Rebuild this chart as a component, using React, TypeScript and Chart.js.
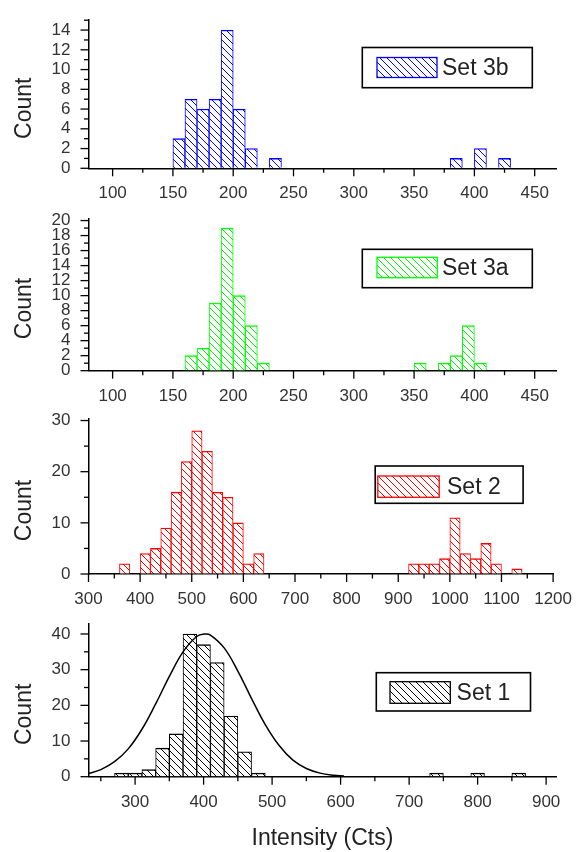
import React, { useEffect, useRef } from 'react';
import { Chart, registerables } from 'chart.js';

Chart.register(...registerables);

const W = 579;
const H = 852;
const FONT = "Arial, 'Liberation Sans', Helvetica, sans-serif";
const PLOT_LEFT = 88.5;
const PLOT_RIGHT = 556.4;

// ---------- data ----------
// Set 3b (bin width 10)
const set3bBinStart = [150, 160, 170, 180, 190, 200, 210, 230, 380, 400, 420];
const set3bCount = [3, 7, 6, 7, 14, 6, 2, 1, 1, 2, 1];
// Set 3a (bin width 10)
const set3aBinStart = [160, 170, 180, 190, 200, 210, 220, 350, 370, 380, 390, 400];
const set3aCount = [2, 3, 9, 19, 10, 6, 1, 1, 1, 2, 6, 1];
// Set 2 (bin width 20)
const set2BinStart = [360, 400, 420, 440, 460, 480, 500, 520, 540, 560, 580, 600, 620, 920, 940, 960, 980, 1000, 1020, 1040, 1060, 1080, 1120];
const set2Count = [2, 4, 5, 9, 16, 22, 28, 24, 16, 15, 10, 2, 4, 2, 2, 2, 3, 11, 4, 3, 6, 2, 1];
// Set 1 (bin width 20)
const set1BinStart = [270, 290, 310, 330, 350, 370, 390, 410, 430, 450, 470, 730, 790, 850];
const set1Count = [1, 1, 2, 8, 12, 40, 37, 32, 17, 7, 1, 1, 1, 1];
// Set 1 fitted curve
const set1FitX = [232, 250, 270, 290, 310, 330, 350, 370, 390, 402, 410, 430, 450, 470, 490, 510, 530, 550, 570, 590, 605];
const set1FitY = [0.9, 2.0, 4.2, 7.8, 13.3, 20.4, 28.1, 35.0, 39.3, 40, 39.7, 36.1, 29.6, 21.9, 14.6, 8.8, 4.7, 2.3, 1.0, 0.4, 0.2];

const panels = [
  {
    label: 'Set 3b', color: '#0000ff', binStart: set3bBinStart, counts: set3bCount, binWidth: 10,
    x: { min: 80, max: 468, minor: 25, major: 50 },
    y: { max: 15, minor: 1, major: 2 },
    area: { top: 15, bottom: 168.3 },
    legend: { box: [362.3, 47.5, 532.3, 87.7], swatch: [377, 57.5, 437, 77.5], textX: 442 },
  },
  {
    label: 'Set 3a', color: '#00ff00', binStart: set3aBinStart, counts: set3aCount, binWidth: 10,
    x: { min: 80, max: 468, minor: 25, major: 50 },
    y: { max: 20.3, minor: 1, major: 2 },
    area: { top: 218.3, bottom: 370.7 },
    legend: { box: [362.3, 249.3, 532.3, 287.7], swatch: [377, 257.3, 437.3, 277.7], textX: 442 },
  },
  {
    label: 'Set 2', color: '#ff0000', binStart: set2BinStart, counts: set2Count, binWidth: 20,
    x: { min: 300, max: 1200, minor: 50, major: 100 },
    y: { max: 30.3, minor: 5, major: 10 },
    area: { top: 419, bottom: 574 },
    legend: { box: [375.2, 466, 523.1, 503.3], swatch: [377.8, 476, 439.2, 497.3], textX: 447 },
  },
  {
    label: 'Set 1', color: '#000000', binStart: set1BinStart, counts: set1Count, binWidth: 20,
    x: { min: 232, max: 915, minor: 50, major: 100 },
    y: { max: 42.8, minor: 5, major: 10 },
    area: { top: 624, bottom: 776.7 },
    legend: { box: [376.3, 672.7, 530.5, 711], swatch: [390, 681.7, 450.3, 703.3], textX: 456.6 },
    fitX: set1FitX, fitY: set1FitY,
    xTitle: 'Intensity (Cts)', xTitleY: 839,
  },
];

function makeHatch(color: string) {
  const s = 7;
  const c = document.createElement('canvas');
  c.width = s;
  c.height = s;
  const g = c.getContext('2d')!;
  g.fillStyle = '#ffffff';
  g.fillRect(0, 0, s, s);
  g.strokeStyle = color;
  g.lineWidth = 1;
  for (const k of [-1, 0, 1]) {
    g.beginPath();
    g.moveTo(k * s, 0);
    g.lineTo(k * s + s, s);
    g.stroke();
  }
  return g.createPattern(c, 'repeat')!;
}

const isMajor = (v: number, step: number) => Math.abs(v / step - Math.round(v / step)) < 1e-6;

const decorPlugin = {
  id: 'decor',
  afterDraw(chart: any, _args: any, opts: any) {
    const ctx = chart.ctx as CanvasRenderingContext2D;
    const { left, top, bottom } = chart.chartArea;
    const xs = chart.scales.x;
    const ys = chart.scales.y;
    ctx.save();
    ctx.strokeStyle = '#000';
    ctx.lineWidth = 1.3;
    xs.ticks.forEach((t: any) => {
      const px = xs.getPixelForValue(t.value);
      const len = isMajor(t.value, opts.xMajor) ? 8 : 4.5;
      ctx.beginPath();
      ctx.moveTo(px, bottom);
      ctx.lineTo(px, bottom + len);
      ctx.stroke();
    });
    ys.ticks.forEach((t: any) => {
      const py = ys.getPixelForValue(t.value);
      const len = isMajor(t.value, opts.yMajor) ? 8 : 4.5;
      ctx.beginPath();
      ctx.moveTo(left, py);
      ctx.lineTo(left - len, py);
      ctx.stroke();
    });

    // y title
    ctx.fillStyle = '#222';
    ctx.font = `23px ${FONT}`;
    ctx.textAlign = 'center';
    ctx.textBaseline = 'middle';
    ctx.save();
    ctx.translate(25, (top + bottom) / 2 + 14);
    ctx.rotate(-Math.PI / 2);
    ctx.fillText('Count', 0, 0);
    ctx.restore();

    if (opts.xTitle) {
      ctx.fillText(opts.xTitle, (chart.chartArea.left + chart.chartArea.right) / 2, opts.xTitleY);
    }

    // legend
    const ds = chart.data.datasets.find((d: any) => d.type !== 'line');
    const [bx0, by0, bx1, by1] = opts.legend.box;
    const [sx0, sy0, sx1, sy1] = opts.legend.swatch;
    ctx.fillStyle = '#fff';
    ctx.fillRect(bx0, by0, bx1 - bx0, by1 - by0);
    ctx.strokeStyle = '#000';
    ctx.lineWidth = 1.6;
    ctx.strokeRect(bx0, by0, bx1 - bx0, by1 - by0);
    ctx.fillStyle = ds.backgroundColor;
    ctx.fillRect(sx0, sy0, sx1 - sx0, sy1 - sy0);
    ctx.strokeStyle = ds.borderColor;
    ctx.lineWidth = 1.3;
    ctx.strokeRect(sx0, sy0, sx1 - sx0, sy1 - sy0);
    ctx.fillStyle = '#222';
    ctx.textAlign = 'left';
    ctx.fillText(ds.label, opts.legend.textX, (sy0 + sy1) / 2 + 1);
    ctx.restore();
  },
};

function buildConfig(p: any) {
  const hatch = makeHatch(p.color);
  const datasets: any[] = [];
  if (p.fitX) {
    datasets.push({
      type: 'line',
      label: 'fit',
      data: p.fitX.map((x: number, i: number) => ({ x, y: p.fitY[i] })),
      borderColor: '#000',
      borderWidth: 1.5,
      pointRadius: 0,
      tension: 0.4,
      fill: false,
      order: 0,
    });
  }
  datasets.push({
    type: 'bar',
    label: p.label,
    data: p.binStart.map((s: number, i: number) => ({ x: s + p.binWidth / 2, y: p.counts[i] })),
    backgroundColor: hatch,
    borderColor: p.color,
    borderWidth: { top: 1.4, left: 1, right: 1, bottom: 0 },
    borderSkipped: 'start',
    barPercentage: 1,
    categoryPercentage: 1,
    order: 1,
  });

  const tickFont = { family: FONT, size: 17 };
  const gridOpts = {
    display: true,
    drawOnChartArea: false,
    drawTicks: true,
    tickLength: 8,
    tickColor: 'rgba(0,0,0,0)',
    offset: false,
  };
  const borderOpts = { display: true, color: '#000', width: 1.5 };

  return {
    type: 'bar',
    data: { datasets },
    options: {
      responsive: false,
      maintainAspectRatio: false,
      animation: false,
      events: [],
      layout: { padding: { top: p.area.top, right: W - PLOT_RIGHT, left: 0, bottom: 0 } },
      plugins: {
        legend: { display: false },
        tooltip: { enabled: false },
        decor: {
          xMajor: p.x.major,
          yMajor: p.y.major,
          legend: p.legend,
          xTitle: p.xTitle,
          xTitleY: p.xTitleY,
        },
      },
      scales: {
        x: {
          type: 'linear',
          min: p.x.min,
          max: p.x.max,
          offset: false,
          afterFit: (s: any) => { s.height = H - p.area.bottom; },
          grid: gridOpts,
          border: borderOpts,
          ticks: {
            stepSize: p.x.minor,
            autoSkip: false,
            maxRotation: 0,
            minRotation: 0,
            includeBounds: false,
            padding: 7,
            color: '#333',
            font: tickFont,
            callback: (v: any) => (isMajor(Number(v), p.x.major) ? String(v) : ''),
          },
        },
        y: {
          type: 'linear',
          min: 0,
          max: p.y.max,
          afterFit: (s: any) => { s.width = PLOT_LEFT; },
          grid: gridOpts,
          border: borderOpts,
          ticks: {
            stepSize: p.y.minor,
            autoSkip: false,
            includeBounds: false,
            padding: 10,
            color: '#333',
            font: tickFont,
            callback: (v: any) => (isMajor(Number(v), p.y.major) ? String(v) : ''),
          },
        },
      },
    },
    plugins: [decorPlugin],
  };
}

function Panel({ cfg }: { cfg: any }) {
  const ref = useRef<HTMLCanvasElement>(null);
  useEffect(() => {
    const chart = new Chart(ref.current as HTMLCanvasElement, buildConfig(cfg) as any);
    return () => chart.destroy();
  }, [cfg]);
  return (
    <canvas
      ref={ref}
      width={W}
      height={H}
      style={{ position: 'absolute', left: 0, top: 0, width: W, height: H }}
    />
  );
}

export default function App() {
  return (
    <div style={{ position: 'absolute', left: 0, top: 0, width: W, height: H, background: '#fff', overflow: 'hidden' }}>
      {panels.map((p, i) => (
        <Panel key={i} cfg={p} />
      ))}
    </div>
  );
}
